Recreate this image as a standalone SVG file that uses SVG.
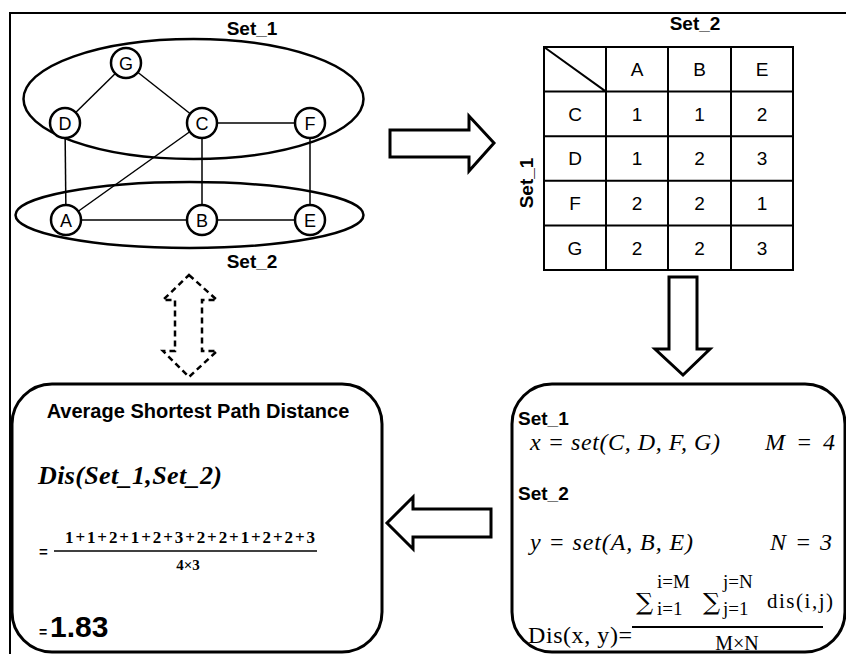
<svg xmlns="http://www.w3.org/2000/svg" width="846" height="654" viewBox="0 0 846 654">
<style>
.sans{font-family:"Liberation Sans",Arial,sans-serif}
.serif{font-family:"Liberation Serif","Times New Roman",serif}
.b{font-weight:bold}
.i{font-style:italic}
.mid{text-anchor:middle}
.node circle{fill:#fff;stroke:#000;stroke-width:2.5}
.node text{font-family:"Liberation Sans",Arial,sans-serif;font-size:18px;text-anchor:middle}
.edge{stroke:#000;stroke-width:1.5;fill:none}
.set{fill:none;stroke:#000;stroke-width:2.5}
.arrow{fill:#fff;stroke:#000;stroke-width:3;stroke-linejoin:miter}
.dash{fill:#fff;stroke:#000;stroke-width:2.5;stroke-dasharray:6 4}
.box{fill:#fff;stroke:#000;stroke-width:3}
.grid{stroke:#000;stroke-width:2;fill:none}
.cell{font-family:"Liberation Sans",Arial,sans-serif;font-size:19px;text-anchor:middle}
.lbl{font-family:"Liberation Sans",Arial,sans-serif;font-weight:bold;font-size:19px}
.math{font-family:"Liberation Serif","Times New Roman",serif;font-size:24px}
.sum{font-family:"DejaVu Serif","Liberation Serif",serif;font-size:24px}
</style>
<rect width="846" height="654" fill="#fff"/>
<path d="M10,654 V13 H846" fill="none" stroke="#000" stroke-width="2"/>

<g id="set1-ellipse"><ellipse class="set" cx="193.5" cy="99" rx="170" ry="60"/></g>
<g id="set2-ellipse"><ellipse class="set" cx="189.5" cy="215" rx="174" ry="33"/></g>
<text class="lbl mid" x="252" y="35">Set_1</text>
<text class="lbl mid" x="252" y="268">Set_2</text>

<g id="connectors">
  <line class="edge" x1="126" y1="63" x2="65" y2="123"/>
  <line class="edge" x1="126" y1="63" x2="202" y2="123"/>
  <line class="edge" x1="202" y1="123" x2="310" y2="123"/>
  <line class="edge" x1="65" y1="123" x2="66" y2="220"/>
  <line class="edge" x1="202" y1="123" x2="66" y2="220"/>
  <line class="edge" x1="202" y1="123" x2="202" y2="220"/>
  <line class="edge" x1="310" y1="123" x2="310" y2="220"/>
  <line class="edge" x1="66" y1="220" x2="202" y2="220"/>
  <line class="edge" x1="202" y1="220" x2="310" y2="220"/>
</g>

<g id="node-G" class="node"><circle cx="126" cy="63" r="15"/><text x="126" y="69.5">G</text></g>
<g id="node-D" class="node"><circle cx="65" cy="123" r="15"/><text x="65" y="129.5">D</text></g>
<g id="node-C" class="node"><circle cx="202" cy="123" r="15"/><text x="202" y="129.5">C</text></g>
<g id="node-F" class="node"><circle cx="310" cy="123" r="15"/><text x="310" y="129.5">F</text></g>
<g id="node-A" class="node"><circle cx="66" cy="220" r="15"/><text x="66" y="226.5">A</text></g>
<g id="node-B" class="node"><circle cx="202" cy="220" r="15"/><text x="202" y="226.5">B</text></g>
<g id="node-E" class="node"><circle cx="310" cy="220" r="15"/><text x="310" y="226.5">E</text></g>

<g id="arrows">
  <path class="arrow" d="M390,130 H469 V116 L494,143 L469,171 V157 H390 Z"/>
  <path class="arrow" d="M669,277 H697 V349 H710 L683,375 L655,349 H669 Z"/>
  <path class="arrow" d="M491,509 H413 V497 L387,523 L413,549 V537 H491 Z"/>
  <path class="dash" d="M189,275 L217,300 H202 V351 H217 L189,377 L163,351 H175 V300 H163 Z"/>
</g>

<g id="table">
  <text class="lbl mid" x="695" y="30">Set_2</text>
  <text class="lbl mid" transform="translate(533,183) rotate(-90)">Set_1</text>
  <rect class="grid" x="544" y="47" width="249" height="223"/>
  <path class="grid" d="M606,47 V270 M668,47 V270 M731,47 V270 M544,91.6 H793 M544,136.2 H793 M544,180.8 H793 M544,225.4 H793 M544,47 L606,91.6"/>
  <text class="cell" x="637" y="76">A</text>
  <text class="cell" x="699.5" y="76">B</text>
  <text class="cell" x="762" y="76">E</text>
  <text class="cell" x="575" y="121">C</text>
  <text class="cell" x="637" y="121">1</text>
  <text class="cell" x="699.5" y="121">1</text>
  <text class="cell" x="762" y="121">2</text>
  <text class="cell" x="575" y="165">D</text>
  <text class="cell" x="637" y="165">1</text>
  <text class="cell" x="699.5" y="165">2</text>
  <text class="cell" x="762" y="165">3</text>
  <text class="cell" x="575" y="210">F</text>
  <text class="cell" x="637" y="210">2</text>
  <text class="cell" x="699.5" y="210">2</text>
  <text class="cell" x="762" y="210">1</text>
  <text class="cell" x="575" y="255">G</text>
  <text class="cell" x="637" y="255">2</text>
  <text class="cell" x="699.5" y="255">2</text>
  <text class="cell" x="762" y="255">3</text>
</g>

<g id="average-box">
  <rect class="box" x="12" y="384" width="370" height="268" rx="40"/>
  <text class="sans b mid" x="198" y="418" font-size="20">Average Shortest Path Distance</text>
  <text class="serif b i" x="38" y="484" font-size="26" textLength="184">Dis(Set_1,Set_2)</text>
  <text class="sans b" x="39" y="557" font-size="15">=</text>
  <text class="serif b mid" x="190" y="543" font-size="17" textLength="250">1+1+2+1+2+3+2+2+1+2+2+3</text>
  <line x1="54" y1="551" x2="317" y2="551" stroke="#000" stroke-width="1.5"/>
  <text class="serif b mid" x="188" y="570" font-size="15">4×3</text>
  <text class="sans b" x="39" y="637" font-size="14">=</text>
  <text class="sans b" x="50" y="637" font-size="30">1.83</text>
</g>

<g id="formula-box">
  <rect class="box" x="512" y="384" width="333" height="268" rx="40"/>
  <text class="lbl" x="518" y="425">Set_1</text>
  <text class="math i" x="530" y="450" textLength="190">x = set(C, D, F, G)</text>
  <text class="math i" x="765" y="450" textLength="70">M = 4</text>
  <text class="lbl" x="518" y="500">Set_2</text>
  <text class="math i" x="530" y="550" textLength="163">y = set(A, B, E)</text>
  <text class="math i" x="770" y="550" textLength="62">N = 3</text>
  <text class="math" x="528" y="643" textLength="104">Dis(x, y)=</text>
  <line x1="632" y1="627" x2="823" y2="627" stroke="#000" stroke-width="2"/>
  <text class="sum" x="636" y="610">∑</text>
  <text class="serif" x="657" y="588" font-size="19">i=M</text>
  <text class="serif" x="657" y="615" font-size="19">i=1</text>
  <text class="sum" x="703" y="610">∑</text>
  <text class="serif" x="723" y="588" font-size="19">j=N</text>
  <text class="serif" x="723" y="615" font-size="19">j=1</text>
  <text class="serif" x="767" y="608" font-size="21" textLength="66">dis(i,j)</text>
  <text class="serif mid" x="737" y="650" font-size="20">M×N</text>
</g>
</svg>
